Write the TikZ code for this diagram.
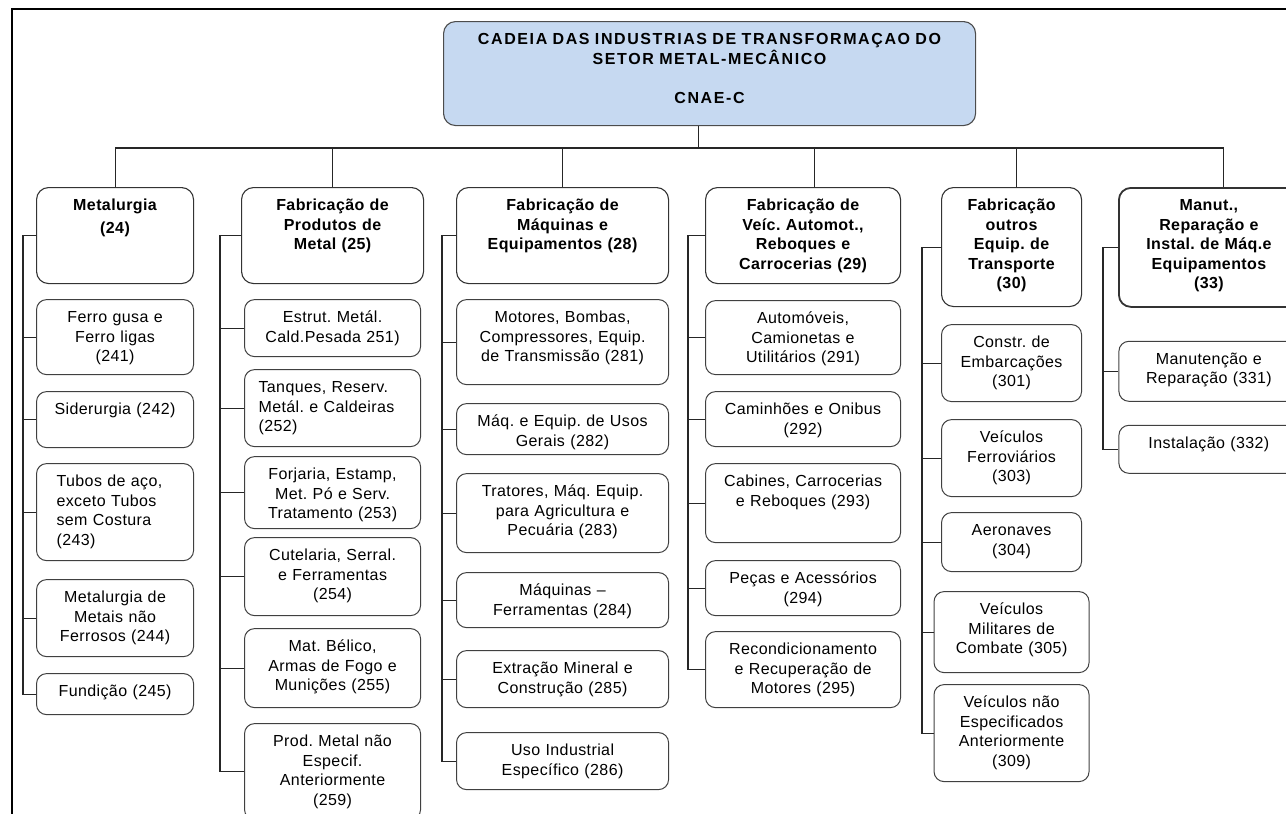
\documentclass[tikz,border=0pt]{standalone}
\usepackage{fontspec}
\setmainfont{Liberation Sans}[LetterSpace=2.5]
\newfontfamily\titlefont{Liberation Sans}[LetterSpace=10]
\usepackage{tikz}
\usetikzlibrary{positioning}
\definecolor{titulo}{RGB}{198,217,241}
\frenchspacing
\tikzset{
  %title box
  cnae/.style={
    rectangle,
    rounded corners=12pt,
    draw=black!70, line width=1.1pt,
    fill=titulo,
    font=\titlefont\bfseries\fontsize{16}{19.5}\selectfont,
    align=center,
    inner sep=4pt, text height=19pt,
    anchor=north west},
  %division boxes
  setor/.style={
    rectangle,
    rounded corners=12pt,
    draw=black!80, line width=1.1pt,
    font=\bfseries\fontsize{16}{19.5}\selectfont,
    align=center,
    inner sep=4pt, text height=19pt,
    anchor=north west},
  %group boxes
  grupo/.style={
    rectangle,
    rounded corners=10pt,
    draw=black!75, line width=1pt,
    font=\fontsize{16}{19.5}\selectfont,
    align=center,
    inner sep=4pt, text height=19pt},
  %total height of a box
  alto/.style={text depth={#1-27pt}},
  %box width and text width
  col/.style 2 args={minimum width=#1, text width=#2},
  %define style for lines
  ligacao/.style={
    draw=black!85,
    line width=1.1pt}
}
\begin{document}
\begin{tikzpicture}[x=1pt, y=-1pt]
\useasboundingbox (0,0) rectangle (1286,814);
\clip (0,0) rectangle (1286,814);
\draw[line width=1.6pt] (12,814) -- (12,9) -- (1286,9);

%title
\node[cnae, col={532pt}{520pt}, alto=104pt] (cnae) at (443,21)
     {CADEIA DAS INDUSTRIAS DE TRANSFORMAÇAO DO\\SETOR METAL-MECÂNICO\\[19.5pt]CNAE-C};

%divisions
\node[setor, col={157pt}{145pt}, alto=96pt] (metal) at (36,187) {Metalurgia\\[3pt](24)};
\node[setor, col={182pt}{170pt}, alto=96pt] (prod) at (241,187)
     {Fabricação de\\Produtos de\\Metal (25)};
\node[setor, col={212pt}{200pt}, alto=96pt] (maq) at (456,187)
     {Fabricação de\\Máquinas e\\Equipamentos (28)};
\node[setor, col={195pt}{185pt}, alto=96pt] (veic) at (705,187)
     {Fabricação de\\Veíc. Automot.,\\Reboques e\\Carrocerias (29)};
\node[setor, col={140pt}{130pt}, alto=119pt] (outros) at (941,187)
     {Fabricação\\outros\\Equip. de\\Transporte\\(30)};
\node[setor, col={180pt}{170pt}, alto=119pt, line width=1.8pt] (manut) at (1118,187)
     {Manut.,\\Reparação e\\Instal. de Máq.e\\Equipamentos\\(33)};

%groups 24
\node[grupo, col={157pt}{145pt}, alto=75pt, below=15pt of metal] (ferro)
     {Ferro gusa e\\Ferro ligas\\(241)};
\node[grupo, col={157pt}{145pt}, alto=56pt, below=16pt of ferro] (sider) {Siderurgia (242)};
\node[grupo, col={157pt}{117pt}, align=left, alto=97pt, below=15pt of sider] (tubos)
     {Tubos de aço,\\exceto Tubos\\sem Costura\\(243)};
\node[grupo, col={157pt}{145pt}, alto=77pt, below=18pt of tubos] (naofer)
     {Metalurgia de\\Metais não\\Ferrosos (244)};
\node[grupo, col={157pt}{145pt}, alto=41pt, below=16pt of naofer] (fund) {Fundição (245)};

%groups 25
\node[grupo, col={176pt}{166pt}, alto=57pt, below=15pt of prod] (estrut)
     {Estrut. Metál.\\Cald.Pesada 251)};
\node[grupo, col={176pt}{148pt}, align=left, alto=77pt, below=12pt of estrut] (tanq)
     {Tanques, Reserv.\\Metál. e Caldeiras\\(252)};
\node[grupo, col={176pt}{166pt}, alto=72pt, below=9pt of tanq] (forj)
     {Forjaria, Estamp,\\Met. Pó e Serv.\\Tratamento (253)};
\node[grupo, col={176pt}{166pt}, alto=78pt, below=8pt of forj] (cutel)
     {Cutelaria, Serral.\\e Ferramentas\\(254)};
\node[grupo, col={176pt}{166pt}, alto=79pt, below=12pt of cutel] (belico)
     {Mat. Bélico,\\Armas de Fogo e\\Munições (255)};
\node[grupo, col={176pt}{166pt}, alto=96pt, below=15pt of belico] (prodn)
     {Prod. Metal não\\Especif.\\Anteriormente\\(259)};

%groups 28
\node[grupo, col={212pt}{202pt}, alto=85pt, below=15pt of maq] (motor)
     {Motores, Bombas,\\Compressores, Equip.\\de Transmissão (281)};
\node[grupo, col={212pt}{202pt}, alto=51pt, below=18pt of motor] (usos)
     {Máq. e Equip. de Usos\\Gerais (282)};
\node[grupo, col={212pt}{202pt}, alto=79pt, below=18pt of usos] (trat)
     {Tratores, Máq. Equip.\\para Agricultura e\\Pecuária (283)};
\node[grupo, col={212pt}{202pt}, alto=55pt, below=19pt of trat] (maqf)
     {Máquinas –\\Ferramentas (284)};
\node[grupo, col={212pt}{202pt}, alto=57pt, below=22pt of maqf] (extr)
     {Extração Mineral e\\Construção (285)};
\node[grupo, col={212pt}{202pt}, alto=57pt, below=24pt of extr] (uso)
     {Uso Industrial\\Específico (286)};

%groups 29
\node[grupo, col={195pt}{185pt}, alto=74pt, below=16pt of veic] (auto)
     {Automóveis,\\Camionetas e\\Utilitários (291)};
\node[grupo, col={195pt}{185pt}, alto=55pt, below=16pt of auto] (camin)
     {Caminhões e Onibus\\(292)};
\node[grupo, col={195pt}{185pt}, alto=79pt, below=16pt of camin] (cabin)
     {Cabines, Carrocerias\\e Reboques (293)};
\node[grupo, col={195pt}{185pt}, alto=55pt, below=17pt of cabin] (pecas)
     {Peças e Acessórios\\(294)};
\node[grupo, col={195pt}{185pt}, alto=76pt, below=15pt of pecas] (recond)
     {Recondicionamento\\e Recuperação de\\Motores (295)};

%groups 30
\node[grupo, col={140pt}{130pt}, alto=77pt, below=17pt of outros] (constr)
     {Constr. de\\Embarcações\\(301)};
\node[grupo, col={140pt}{130pt}, alto=77pt, below=17pt of constr] (ferrov)
     {Veículos\\Ferroviários\\(303)};
\node[grupo, col={140pt}{130pt}, alto=59pt, below=15pt of ferrov] (aero)
     {Aeronaves\\(304)};
\node[grupo, col={155pt}{145pt}, alto=81pt, below=19pt of aero] (milit)
     {Veículos\\Militares de\\Combate (305)};
\node[grupo, col={155pt}{145pt}, alto=97pt, below=11pt of milit] (naoesp)
     {Veículos não\\Especificados\\Anteriormente\\(309)};

%groups 33
\node[grupo, col={180pt}{170pt}, alto=60pt, below=33pt of manut] (manrep)
     {Manutenção e\\Reparação (331)};
\node[grupo, col={180pt}{170pt}, alto=48pt, below=23pt of manrep] (instal)
     {Instalação (332)};

%lines
\coordinate (barra) at (0,148);
\draw[ligacao] ([xshift=-11pt]cnae.south) -- ([xshift=-11pt]cnae.south |- barra);
\draw[ligacao] (metal.north |- barra) -- ([xshift=15pt]manut.north |- barra);
\foreach \s/\d in {metal/0pt,prod/0pt,maq/0pt,veic/11pt,outros/5pt,manut/15pt}
  \draw[ligacao] ([xshift=\d]\s.north) -- ([xshift=\d]\s.north |- barra);

\foreach \c in {ferro,sider,tubos,naofer,fund}
  \draw[ligacao] (metal.west) -- ++(-13,0) |- (\c.west);
\foreach \c in {estrut,tanq,forj,cutel,belico,prodn}
  \draw[ligacao] (prod.west) -- ++(-21,0) |- (\c.west);
\foreach \c in {motor,usos,trat,maqf,extr,uso}
  \draw[ligacao] (maq.west) -- ++(-14,0) |- (\c.west);
\foreach \c in {auto,camin,cabin,pecas,recond}
  \draw[ligacao] (veic.west) -- ++(-17,0) |- (\c.west);
\foreach \c in {constr,ferrov,aero,milit,naoesp}
  \draw[ligacao] (outros.west) -- ++(-19,0) |- (\c.west);
\foreach \c in {manrep,instal}
  \draw[ligacao] (manut.west) -- ++(-15,0) |- (\c.west);

\end{tikzpicture}
\end{document}
